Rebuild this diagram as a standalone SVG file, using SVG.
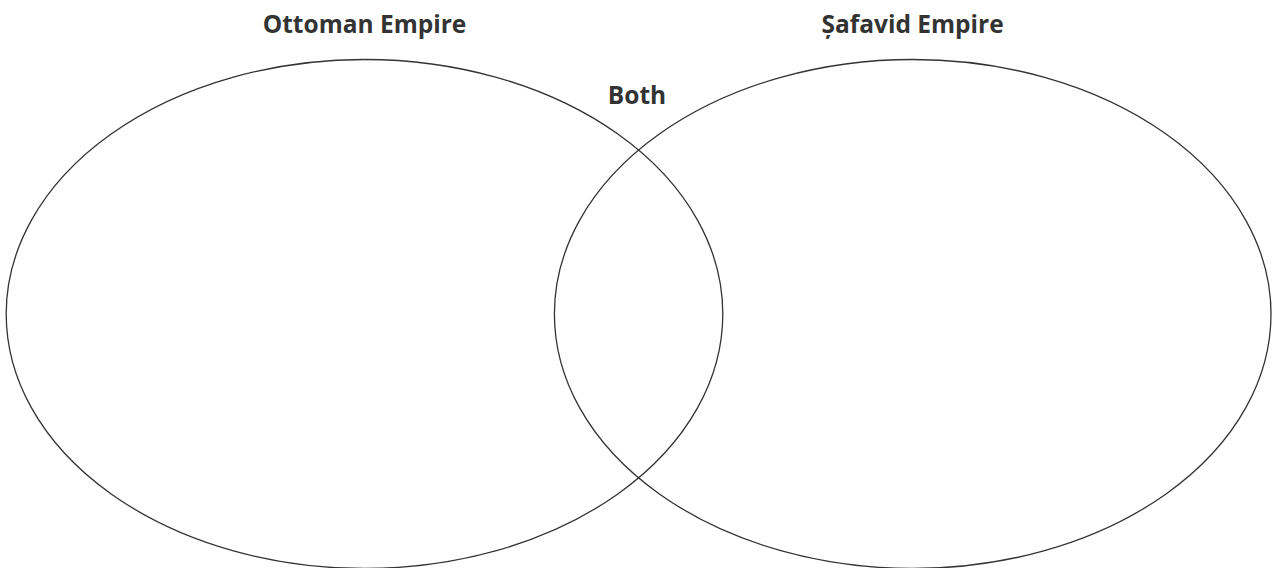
<svg xmlns="http://www.w3.org/2000/svg" width="1277" height="568" viewBox="0 0 1277 568">
<style>
.c{fill:none;stroke:#333;stroke-width:1.3}
.t{font-family:"Open Sans","Liberation Sans",sans-serif;font-weight:bold;font-size:24.5px;fill:#333;text-anchor:middle}
</style>
<rect width="1277" height="568" fill="#fff"/>
<g id="ottoman">
<ellipse class="c" cx="364.5" cy="314" rx="358.3" ry="254.5"/>
<text class="t" x="364.5" y="33">Ottoman Empire</text>
</g>
<g id="safavid">
<ellipse class="c" cx="912.7" cy="314" rx="358.3" ry="254.5"/>
<text class="t" x="912.5" y="33">Șafavid Empire</text>
</g>
<g id="both">
<text class="t" x="637" y="104">Both</text>
</g>
<g id="connectors"></g>
</svg>
